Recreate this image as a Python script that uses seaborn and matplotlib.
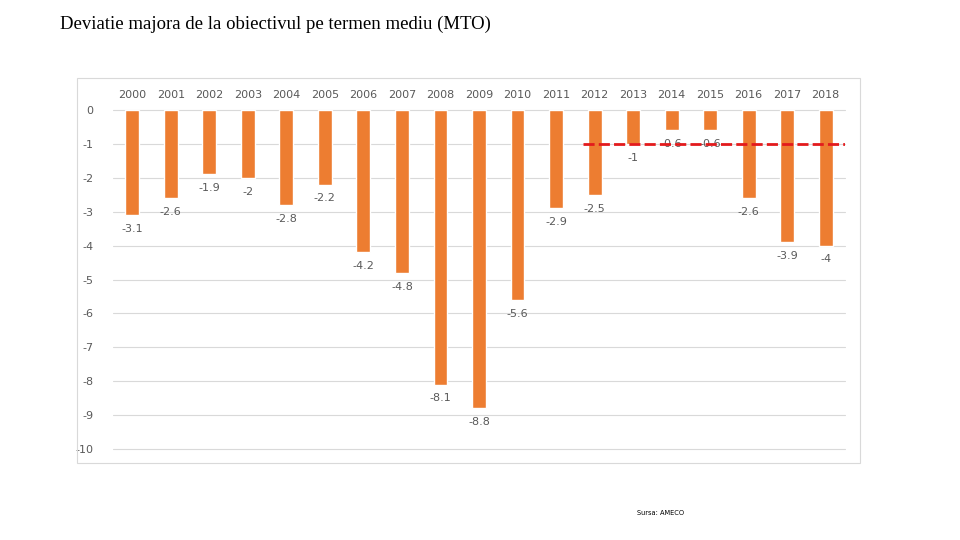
import matplotlib
matplotlib.use("Agg")
import matplotlib.pyplot as plt
import seaborn as sns
import pandas as pd
from matplotlib.patches import Rectangle

# ── Data ─────────────────────────────────────────────────────────────────────
years = [str(y) for y in range(2000, 2019)]
deviation = [-3.1, -2.6, -1.9, -2.0, -2.8, -2.2, -4.2, -4.8, -8.1, -8.8,
             -5.6, -2.9, -2.5, -1.0, -0.6, -0.6, -2.6, -3.9, -4.0]
mto_level = -1.0
mto_start = "2012"
y_ticks = list(range(0, -11, -1))

title = "Deviatie majora de la obiectivul pe termen mediu (MTO)"
source = "Sursa: AMECO"

ORANGE = "#ED7D31"
GRID = "#D9D9D9"
LABEL = "#595959"

sns.set_theme(style="white")
plt.rcParams["font.family"] = ["DejaVu Sans"]

df = pd.DataFrame({"year": years, "value": deviation})

fig = plt.figure(figsize=(9.6, 5.4), dpi=100)
fig.patch.set_facecolor("white")

# chart frame
fig.patches.append(Rectangle((0.0802, 0.1426), 0.8156, 0.713, transform=fig.transFigure,
                             fill=False, edgecolor="#D9D9D9", linewidth=0.8))

ax = fig.add_axes([0.1177, 0.1685, 0.7625, 0.6278])
sns.barplot(data=df, x="year", y="value", color=ORANGE, width=0.36,
            saturation=1, ax=ax)

ax.set_ylim(-10, 0)
ax.set_xlim(-0.5, len(years) - 0.5)
ax.set_yticks(y_ticks)
ax.set_yticklabels([str(t) for t in y_ticks])
ax.yaxis.grid(True, color=GRID, linewidth=0.8)
for gl in ax.get_ygridlines():
    gl.set_clip_on(False)
ax.set_axisbelow(True)
ax.xaxis.tick_top()
ax.tick_params(axis="x", length=0, pad=7, labelsize=8, labelcolor=LABEL)
ax.tick_params(axis="y", length=0, pad=14, labelsize=8, labelcolor=LABEL)
ax.set_xlabel("")
ax.set_ylabel("")
for s in ax.spines.values():
    s.set_visible(False)

# data labels below bar ends
for i, v in enumerate(deviation):
    ax.annotate(f"{v:g}", (i, v), textcoords="offset points", xytext=(0, -10),
                ha="center", va="center", fontsize=8, color=LABEL)

# MTO reference line
x0 = years.index(mto_start) - 0.31
ax.plot([x0, len(years) - 0.5], [mto_level, mto_level], color="#E31A1C",
        linestyle=(0, (4, 1.5)), linewidth=2, zorder=5)

fig.text(0.0625, 0.955, title, fontsize=13.5, family=["Liberation Serif", "DejaVu Serif"],
         ha="left", va="center", color="black")
fig.text(0.664, 0.05, source, fontsize=4.8, ha="left", va="center", color="black")

fig.savefig("out.png", dpi=100)
